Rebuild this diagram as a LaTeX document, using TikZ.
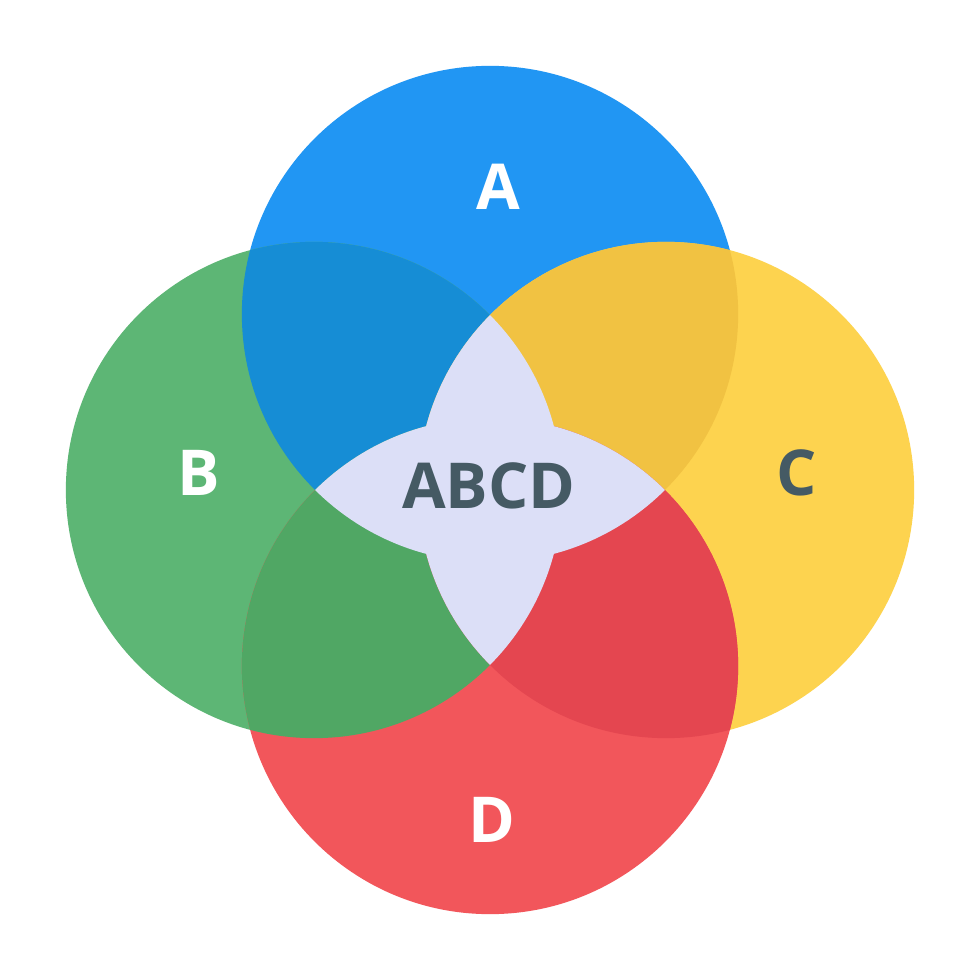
\documentclass[tikz,border=0pt]{standalone}
\usepackage{fontspec}
\setmainfont{Open Sans}
\definecolor{colA}{HTML}{2196F3}
\definecolor{colB}{HTML}{5DB675}
\definecolor{colC}{HTML}{FDD34F}
\definecolor{colD}{HTML}{F2565B}
\definecolor{colAB}{HTML}{168DD5}
\definecolor{colAC}{HTML}{F1C242}
\definecolor{colBD}{HTML}{50A764}
\definecolor{colCD}{HTML}{E44650}
\definecolor{colStar}{HTML}{DCDFF7}
\definecolor{txtDark}{HTML}{455A64}
\tikzset{
  lbl/.style={font=\fontsize{18}{20}\selectfont\bfseries, inner sep=0pt},
}
\begin{document}
\begin{tikzpicture}[x=0.01cm,y=-0.01cm]
\def\R{2.48cm}
\useasboundingbox (0,0) rectangle (980,980);
\fill[white] (0,0) rectangle (980,980);
\coordinate (pA) at (490,314);
\coordinate (pB) at (314,490);
\coordinate (pC) at (666,490);
\coordinate (pD) at (490,666);
% base circles
\fill[colA] (pA) circle (\R);
\fill[colB] (pB) circle (\R);
\fill[colC] (pC) circle (\R);
\fill[colD] (pD) circle (\R);
% pairwise overlaps
\begin{scope}\clip (pA) circle (\R); \fill[colAB] (pB) circle (\R);\end{scope}
\begin{scope}\clip (pA) circle (\R); \fill[colAC] (pC) circle (\R);\end{scope}
\begin{scope}\clip (pB) circle (\R); \fill[colBD] (pD) circle (\R);\end{scope}
\begin{scope}\clip (pC) circle (\R); \fill[colCD] (pD) circle (\R);\end{scope}
% central star
\begin{scope}\clip (pA) circle (\R); \fill[colStar] (pD) circle (\R);\end{scope}
\begin{scope}\clip (pB) circle (\R); \fill[colStar] (pC) circle (\R);\end{scope}
% labels
\node[lbl, text=white] (lA) at (498,187) {A};
\node[lbl, text=white] (lB) at (199,473) {B};
\node[lbl, text=txtDark] (lC) at (797,473) {C};
\node[lbl, text=white] (lD) at (492,820) {D};
\node[lbl, text=txtDark] (lABCD) at (489,486) {ABCD};
\end{tikzpicture}
\end{document}
